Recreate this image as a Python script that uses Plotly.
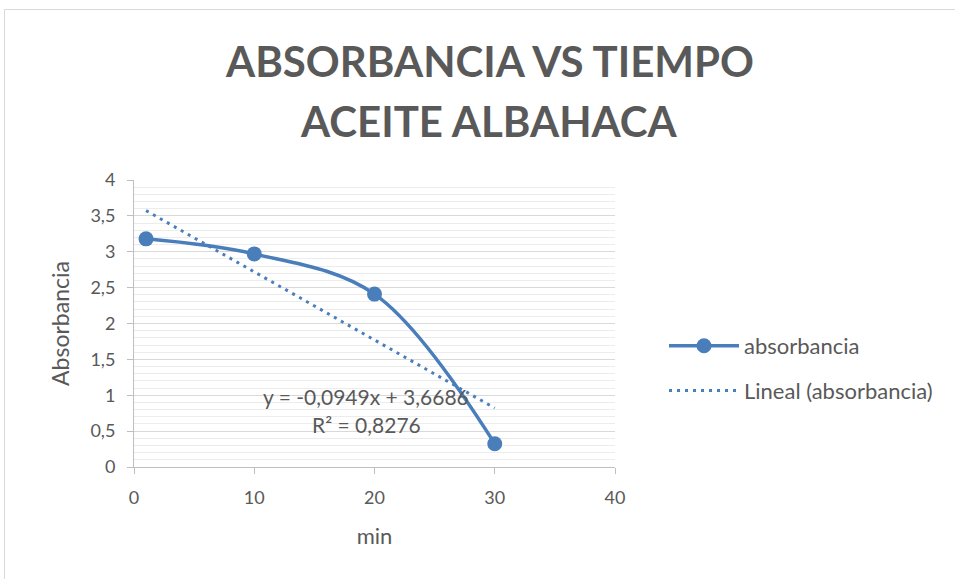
import plotly.graph_objects as go

# ---- data ----
tiempo_min = [1, 10, 20, 30]
absorbancia = [3.18, 2.97, 2.41, 0.325]
trend_slope = -0.0949
trend_intercept = 3.6686
trend_r2 = 0.8276
x_ticks = [0, 10, 20, 30, 40]
y_ticks = [0, 0.5, 1, 1.5, 2, 2.5, 3, 3.5, 4]

BLUE = "#4a7ebb"
TXT = "#595959"
FONT = "Lato"

trend_x = [tiempo_min[0], tiempo_min[-1]]
trend_y = [trend_intercept + trend_slope * v for v in trend_x]

fig = go.Figure()
fig.add_trace(go.Scatter(
    x=trend_x, y=trend_y, mode="lines", name="Lineal (absorbancia)",
    line=dict(color=BLUE, width=3, dash="3px,5px"), legendgroup="b", legendrank=2,
))
fig.add_trace(go.Scatter(
    x=tiempo_min, y=absorbancia, mode="lines+markers", name="absorbancia",
    line=dict(color=BLUE, width=3.5, shape="spline", smoothing=1),
    marker=dict(color=BLUE, size=15), legendgroup="a", legendrank=1,
))

def fmt(v, nd):
    return f"{v:.{nd}f}".replace(".", ",")

fig.add_annotation(x=19.3, y=0.98, xref="x", yref="y",
                   text=f"y = {fmt(trend_slope, 4)}x + {fmt(trend_intercept, 4)}",
                   showarrow=False, font=dict(family=FONT, size=21, color=TXT))
fig.add_annotation(x=19.3, y=0.59, xref="x", yref="y",
                   text=f"R² = {fmt(trend_r2, 4)}",
                   showarrow=False, font=dict(family=FONT, size=21, color=TXT))

W, H = 955, 579
L, R, T, B = 134, 615, 180, 467

# title (two lines)
title_lines = ["ABSORBANCIA VS TIEMPO", "ACEITE ALBAHACA"]
title_ypix = [61, 121]
for txt, yp in zip(title_lines, title_ypix):
    fig.add_annotation(
        x=(489 - L) / (R - L), y=(B - yp) / (B - T), xref="paper", yref="paper",
        text=f"<b>{txt}</b>", showarrow=False, xanchor="center", yanchor="middle",
        font=dict(family=FONT, size=42, color=TXT),
    )

# chart border
fig.add_shape(type="rect", xref="paper", yref="paper",
              x0=(4.5 - L) / (R - L), x1=(1000 - L) / (R - L),
              y0=(B - 700) / (B - T), y1=(B - 9.5) / (B - T),
              line=dict(color="#d9d9d9", width=1), fillcolor="rgba(0,0,0,0)", layer="below")

fig.update_layout(
    width=W, height=H,
    margin=dict(l=L, r=W - R, t=T, b=H - B, pad=0),
    paper_bgcolor="white", plot_bgcolor="white",
    separators=",.",
    font=dict(family=FONT, color=TXT, size=18),
    showlegend=True,
    legend=dict(x=(664 - L) / (R - L), y=(B - 325) / (B - T), xanchor="left", yanchor="top",
                font=dict(family=FONT, size=22, color=TXT), tracegroupgap=13,
                bgcolor="rgba(0,0,0,0)", itemwidth=70),
    xaxis=dict(range=[0, 40], tickvals=x_ticks, showgrid=False, zeroline=False,
               showline=True, linecolor="#bfbfbf", linewidth=1,
               ticks="outside", ticklen=6, tickcolor="#bfbfbf",
               tickfont=dict(family=FONT, size=18, color=TXT), ticklabelstandoff=8,
               title=dict(text="min", font=dict(family=FONT, size=22, color=TXT), standoff=22)),
    yaxis=dict(range=[0, 4], tickvals=y_ticks, showgrid=True, gridcolor="#d9d9d9", gridwidth=1,
               zeroline=False, showline=True, linecolor="#bfbfbf", linewidth=1,
               ticks="outside", ticklen=6, tickcolor="#bfbfbf",
               tickfont=dict(family=FONT, size=18, color=TXT), ticklabelstandoff=8,
               minor=dict(dtick=0.1, showgrid=True, gridcolor="#ececec", gridwidth=1, ticks=""),
               title=dict(text="Absorbancia", font=dict(family=FONT, size=23, color=TXT), standoff=14)),
)

fig.write_html("out.html")
